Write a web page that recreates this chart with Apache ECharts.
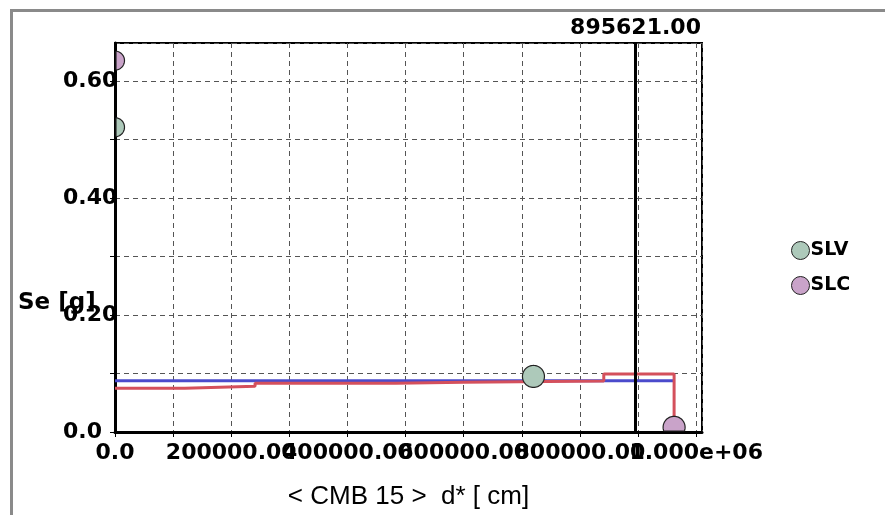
<!DOCTYPE html>
<html><head><meta charset="utf-8">
<script src="https://cdn.jsdelivr.net/npm/echarts@6/dist/echarts.min.js"></script>
<style>html,body{margin:0;padding:0;background:#fff}#c{width:885px;height:515px}</style>
</head><body><div id="c"></div>
<script>
// ---- data ----
const xTicks = [0, 200000, 400000, 600000, 800000, 1000000];
const xTickLabels = ['0.0', '200000.00', '400000.00', '600000.00', '800000.00', '1.000e+06'];
const yTicks = [0, 0.2, 0.4, 0.6];
const yTickLabels = ['0.0', '0.20', '0.40', '0.60'];
const legendNames = ['SLV', 'SLC'];
const slvX = [0, 720000];
const slvY = [0.521, 0.095];
const slcX = [0, 962000];
const slcY = [0.635, 0.008];
const blueX = [0, 962000];
const blueY = [0.0875, 0.0885];
const redX = [0, 120000, 241000, 483000, 600000, 841000, 962000];
const redY = [0.075, 0.078, 0.0835, 0.085, 0.087, 0.099, 0.008];
const cursorX = 895621;
const cursorLabel = '895621.00';
const xTitle = '< CMB 15 >  d* [ cm]';
const yTitle = 'Se [g]';

const LBL = {fontFamily: 'DejaVu Sans', fontWeight: 'bold', fontSize: 22, color: '#000'};

function pick(ticks, labels, v) {
  for (let i = 0; i < ticks.length; i++) {
    if (Math.abs(ticks[i] - v) < 1e-9 * Math.max(1, Math.abs(v)) + 1e-9) return labels[i];
  }
  return '';
}

// circle marker, clipped to the plotting rectangle (drawn as a clamped polygon)
function markerSeries(name, xs, ys, color) {
  return {
    type: 'custom', name: name, z: 6,
    encode: {x: 0, y: 1},
    data: xs.map((x, i) => [x, ys[i]]),
    itemStyle: {color: color, borderColor: '#222', borderWidth: 1},
    renderItem: function (params, api) {
      const x = api.value(0), y = api.value(1);
      const p = api.coord([x, y]);
      const cs = params.coordSys;
      const r = x === 0 ? 9.5 : 11;
      const pts = [];
      for (let k = 0; k < 64; k++) {
        const a = k / 64 * Math.PI * 2;
        let px = p[0] + r * Math.cos(a), py = p[1] + r * Math.sin(a);
        px = Math.min(Math.max(px, cs.x + 1), cs.x + cs.width);
        py = Math.min(Math.max(py, cs.y), cs.y + cs.height - 1);
        pts.push([px, py]);
      }
      return {
        type: 'polygon',
        shape: {points: pts},
        style: {fill: color, stroke: '#222', lineWidth: 1.2}
      };
    }
  };
}

const chart = echarts.init(document.getElementById('c'), null, {renderer: 'canvas'});
chart.setOption({
  backgroundColor: '#fff',
  animation: false,
  grid: {left: 115, top: 43, width: 587, height: 392, show: true, borderColor: '#000', borderWidth: 2, backgroundColor: 'transparent'},
  legend: {
    data: legendNames.map(n => ({name: n, icon: 'circle'})),
    orient: 'vertical', left: 786, top: 236,
    itemWidth: 18, itemHeight: 18, itemGap: 16,
    itemStyle: {borderColor: '#222', borderWidth: 1},
    textStyle: Object.assign({}, LBL, {fontSize: 19, padding: [0, 0, 0, -4]})
  },
  xAxis: {
    type: 'value', min: 0, max: 1010000, interval: 100000,
    name: xTitle, nameLocation: 'middle', nameGap: 52,
    nameTextStyle: {fontFamily: 'Liberation Sans', fontSize: 26, color: '#000'},
    axisLine: {show: true, onZero: false, lineStyle: {color: '#000', width: 3}},
    axisTick: {show: true, length: 5, lineStyle: {color: '#000', width: 1}},
    axisLabel: Object.assign({margin: 10, showMaxLabel: false, hideOverlap: false,
      formatter: v => pick(xTicks, xTickLabels, v)}, LBL),
    splitLine: {show: true, lineStyle: {color: '#555', type: [5, 4], width: 1}}
  },
  yAxis: {
    type: 'value', min: 0, max: 0.665, interval: 0.1,
    axisLine: {show: true, onZero: false, lineStyle: {color: '#000', width: 3}},
    axisTick: {show: true, length: 5, lineStyle: {color: '#000', width: 1}},
    axisLabel: Object.assign({margin: 52, align: 'left', showMaxLabel: false,
      formatter: v => pick(yTicks, yTickLabels, v)}, LBL),
    splitLine: {show: true, lineStyle: {color: '#555', type: [5, 4], width: 1}}
  },
  graphic: [
    {type: 'rect', left: 9, top: 8, shape: {width: 900, height: 520}, style: {fill: 'none', stroke: '#8a8a8a', lineWidth: 3}, z: 100},
    {type: 'text', left: 18, top: 292, style: {text: yTitle, fill: '#000', font: 'bold 23px "DejaVu Sans"'}, z: 100}
  ],
  series: [
    {
      type: 'line', name: 'SLV line', step: 'end', showSymbol: false, z: 3,
      data: blueX.map((x, i) => [x, blueY[i]]),
      lineStyle: {color: '#4b4bcc', width: 3}, itemStyle: {color: '#4b4bcc'}
    },
    {
      type: 'line', name: 'SLC line', step: 'end', showSymbol: false, z: 4,
      data: redX.map((x, i) => [x, redY[i]]),
      lineStyle: {color: '#d4505c', width: 3}, itemStyle: {color: '#d4505c'},
      markLine: {
        silent: true, symbol: 'none', animation: false,
        lineStyle: {color: '#000', width: 3, type: 'solid'},
        label: Object.assign({show: true, position: 'end', distance: 4, formatter: cursorLabel}, LBL),
        data: [{xAxis: cursorX}]
      }
    },
    markerSeries(legendNames[0], slvX, slvY, '#adc9ba'),
    markerSeries(legendNames[1], slcX, slcY, '#c9a3c9')
  ]
});
</script>
</body></html>
